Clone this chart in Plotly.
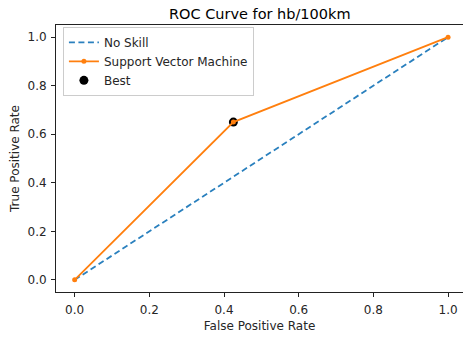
import plotly.graph_objects as go

no_skill_fpr = [0, 1]
no_skill_tpr = [0, 1]
svm_fpr = [0.0, 0.425, 1.0]
svm_tpr = [0.0, 0.65, 1.0]
best_fpr = [0.425]
best_tpr = [0.65]
tick_vals = [0.0, 0.2, 0.4, 0.6, 0.8, 1.0]
tick_text = ["0.0", "0.2", "0.4", "0.6", "0.8", "1.0"]

font = "DejaVu Sans"

fig = go.Figure()
fig.add_trace(go.Scatter(x=no_skill_fpr, y=no_skill_tpr, mode="lines", name="No Skill",
                         legendrank=1,
                         line=dict(color="#2a80be", width=1.8, dash="6px,3.5px")))
fig.add_trace(go.Scatter(x=best_fpr, y=best_tpr, mode="markers", name="Best",
                         legendrank=3,
                         marker=dict(color="black", size=9)))
fig.add_trace(go.Scatter(x=svm_fpr, y=svm_tpr, mode="lines+markers", name="Support Vector Machine",
                         legendrank=2,
                         line=dict(color="#ff7f0e", width=1.8),
                         marker=dict(color="#ff7f0e", size=5)))

axis_common = dict(
    showgrid=False, zeroline=False, showline=True, linecolor="#222", linewidth=1,
    ticks="outside", ticklen=4, tickwidth=1, tickcolor="#222", automargin=False,
    tickfont=dict(family=font, size=12, color="#262626"),
    tickvals=tick_vals, ticktext=tick_text,
)

fig.update_layout(
    width=463, height=338,
    margin=dict(l=56, r=0, t=25, b=46),
    paper_bgcolor="white", plot_bgcolor="white",
    title=dict(text="ROC Curve for hb/100km", x=0.561, xanchor="center", y=0.96, yanchor="middle",
               font=dict(family=font, size=14.5, color="black")),
    xaxis=dict(range=[-0.05, 1.040], mirror=True, ticklabelstandoff=3,
               title=dict(text="False Positive Rate", font=dict(family=font, size=12, color="#262626"), standoff=5),
               **axis_common),
    yaxis=dict(range=[-0.05, 1.05], ticklabelstandoff=2,
               title=dict(text="True Positive Rate", font=dict(family=font, size=12, color="#262626"), standoff=5),
               **axis_common),
    legend=dict(x=0.017, y=0.993, xanchor="left", yanchor="top",
                bgcolor="rgba(255,255,255,0.8)", bordercolor="#cccccc", borderwidth=1,
                font=dict(family=font, size=12, color="#262626"),
                tracegroupgap=0, itemwidth=30),
    showlegend=True,
)

fig.write_html("out.html", config={"displayModeBar": False},
               post_script="document.body.style.margin='0';")
